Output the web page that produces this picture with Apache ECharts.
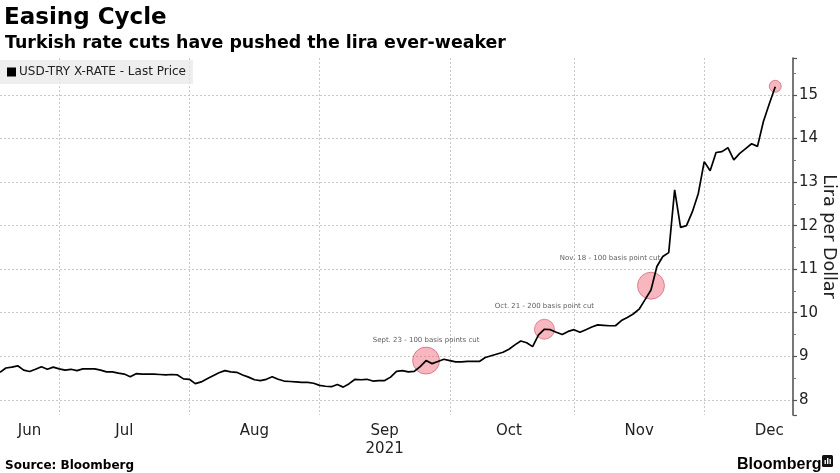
<!DOCTYPE html>
<html>
<head>
<meta charset="utf-8">
<script src="https://cdn.jsdelivr.net/npm/echarts@6/dist/echarts.min.js"></script>
<style>
html,body{margin:0;padding:0;background:#fff;}
#chart{width:840px;height:473px;}
</style>
</head>
<body>
<div id="chart"></div>
<script>
// Business-day index (0 = Jun 17, 2021)
var usdTry = [
  8.63, 8.73, 8.75, 8.78, 8.68, 8.65, 8.70, 8.76, 8.70, 8.75,
  8.71, 8.68, 8.70, 8.67, 8.71, 8.71, 8.71, 8.68, 8.64, 8.64,
  8.61, 8.59, 8.53, 8.60, 8.59, 8.59, 8.59, 8.58, 8.57, 8.58,
  8.57, 8.48, 8.47, 8.37, 8.41, 8.48, 8.55, 8.62, 8.67, 8.64,
  8.63, 8.57, 8.52, 8.46, 8.44, 8.47, 8.53, 8.47, 8.43, 8.42,
  8.41, 8.40, 8.40, 8.38, 8.33, 8.31, 8.30, 8.35, 8.29, 8.37,
  8.47, 8.46, 8.47, 8.43, 8.44, 8.44, 8.52, 8.65, 8.67, 8.64,
  8.65, 8.76, 8.90, 8.83, 8.88, 8.93, 8.90, 8.87, 8.87, 8.88,
  8.88, 8.88, 8.97, 9.01, 9.05, 9.09, 9.16, 9.26, 9.35, 9.31,
  9.22, 9.49, 9.62, 9.61, 9.55, 9.50, 9.57, 9.61, 9.55, 9.61,
  9.67, 9.72, 9.71, 9.70, 9.70, 9.82, 9.89, 9.97, 10.08, 10.30,
  10.52, 11.06, 11.29, 11.38, 12.82, 11.96, 12.00, 12.32, 12.74, 13.47,
  13.26, 13.68, 13.70, 13.79, 13.51, 13.66, 13.77, 13.88, 13.82, 14.39,
  14.80, 15.19
];
var totalSlots = 135; // axis extends a few business days past the last print
var monthStartIdx = [10, 32, 54, 76, 97, 119];
var monthLabelIdx = [5, 21, 43, 65, 86, 108, 130];
var monthLabels = ['Jun', 'Jul', 'Aug', 'Sep\n2021', 'Oct', 'Nov', 'Dec'];
var yTicks = [8, 9, 10, 11, 12, 13, 14, 15];
var yMin = 7.65, yMax = 15.85;

var cutIdx = [72, 92, 110, 131];
var cutVal = [8.90, 9.62, 10.62, 15.20];
var cutText = ['Sept. 23 - 100 basis points cut', 'Oct. 21 - 200 basis point cut', 'Nov. 18 - 100 basis point cut', ''];

// styling (not data)
var markerSize = [27, 20, 27, 12];
var labelDist = [3, 9, 10, 0];
var labelDx = [0, 0, -41, 0];

var categories = [];
for (var i = 0; i < totalSlots; i++) categories.push(String(i));
var lineData = [];
for (var j = 0; j < totalSlots; j++) lineData.push(j < usdTry.length ? usdTry[j] : null);

var scatterData = cutIdx.map(function (ix, k) {
  return {
    value: [ix, cutVal[k]],
    symbolSize: markerSize[k],
    label: {
      show: cutText[k] !== '',
      formatter: cutText[k],
      position: 'top',
      distance: labelDist[k],
      offset: [labelDx[k], 0]
    }
  };
});

var chart = echarts.init(document.getElementById('chart'), null, {renderer: 'canvas'});
chart.setOption({
  animation: false,
  backgroundColor: '#ffffff',
  title: [
    {text: 'Easing Cycle', left: -1, top: 2,
     textStyle: {fontFamily: 'DejaVu Sans', fontWeight: 'bold', fontSize: 23, color: '#000'}},
    {text: 'Turkish rate cuts have pushed the lira ever-weaker', left: 0, top: 30,
     textStyle: {fontFamily: 'DejaVu Sans', fontWeight: 'bold', fontSize: 17.4, color: '#000'}},
    {text: 'Source: Bloomberg', left: 0, top: 455,
     textStyle: {fontFamily: 'DejaVu Sans', fontWeight: 'bold', fontSize: 12, color: '#000'}},
    {text: 'Bloomberg', left: 732, top: 452,
     textStyle: {fontFamily: 'Liberation Sans', fontWeight: 'bold', fontSize: 16, color: '#000'}}
  ],
  graphic: [
    {type: 'rect', left: 822, top: 455, shape: {width: 11, height: 12, r: 1.5}, style: {fill: '#111'}},
    {type: 'rect', left: 824.5, top: 460, shape: {width: 1.4, height: 4}, style: {fill: '#fff'}},
    {type: 'rect', left: 827, top: 458, shape: {width: 1.4, height: 6}, style: {fill: '#fff'}},
    {type: 'rect', left: 829.5, top: 459, shape: {width: 1.4, height: 5}, style: {fill: '#fff'}}
  ],
  legend: {
    left: 0, top: 60,
    padding: [6, 7, 6, 7],
    backgroundColor: 'rgba(232,232,232,0.75)',
    itemWidth: 9, itemHeight: 9, itemGap: 4,
    icon: 'rect',
    data: [{name: 'USD-TRY X-RATE - Last Price', itemStyle: {color: '#000'}}],
    textStyle: {fontFamily: 'DejaVu Sans', fontSize: 12, color: '#222', padding: [0, 0, 0, -2]}
  },
  grid: {left: 0, right: 47, top: 58, bottom: 58, containLabel: false, outerBoundsMode: 'none'},
  xAxis: {
    type: 'category',
    data: categories,
    boundaryGap: false,
    axisLine: {show: false},
    axisTick: {show: false},
    axisLabel: {
      interval: function (index) { return monthLabelIdx.indexOf(index) >= 0; },
      formatter: function (val, index) {
        var k = monthLabelIdx.indexOf(index);
        return k >= 0 ? monthLabels[k] : '';
      },
      fontFamily: 'DejaVu Sans', fontSize: 15, color: '#222', margin: 7, lineHeight: 18
    },
    splitLine: {
      show: true,
      interval: function (index) { return monthStartIdx.indexOf(index) >= 0; },
      lineStyle: {color: '#c8c8c8', type: [2, 2], width: 1}
    }
  },
  yAxis: {
    type: 'value',
    position: 'right',
    min: yMin, max: yMax, splitNumber: 8,
    name: 'Lira per Dollar',
    nameLocation: 'middle',
    nameRotate: -90,
    nameGap: 27,
    nameMoveOverlap: false,
    nameTextStyle: {fontFamily: 'DejaVu Sans', fontSize: 17.5, color: '#222'},
    axisLine: {show: true, lineStyle: {color: '#555', width: 1.6}},
    axisTick: {show: true, inside: false, length: 4, lineStyle: {color: '#555', width: 1.2}},
    minorTick: {show: true, splitNumber: 2, length: 3, lineStyle: {color: '#777', width: 1}},
    axisLabel: {
      fontFamily: 'DejaVu Sans', fontSize: 15, color: '#222', margin: 6,
      showMinLabel: false, showMaxLabel: false,
      formatter: function (v) { return yTicks.indexOf(Math.round(v * 100) / 100) >= 0 ? String(v) : ''; }
    },
    splitLine: {show: true, showMinLine: false, showMaxLine: false,
      lineStyle: {color: '#c8c8c8', type: [2, 2], width: 1}}
  },
  series: [
    {
      name: 'USD-TRY X-RATE - Last Price',
      type: 'line',
      data: lineData,
      showSymbol: false,
      symbol: 'none',
      connectNulls: false,
      z: 4,
      lineStyle: {color: '#000', width: 1.7},
      itemStyle: {color: '#000'}
    },
    {
      name: 'cuts',
      type: 'scatter',
      data: scatterData,
      z: 3,
      itemStyle: {color: 'rgba(240,88,108,0.55)', borderColor: 'rgba(190,60,80,0.65)', borderWidth: 1},
      label: {fontFamily: 'DejaVu Sans', fontSize: 7, color: '#333'}
    }
  ]
});
</script>
</body>
</html>
